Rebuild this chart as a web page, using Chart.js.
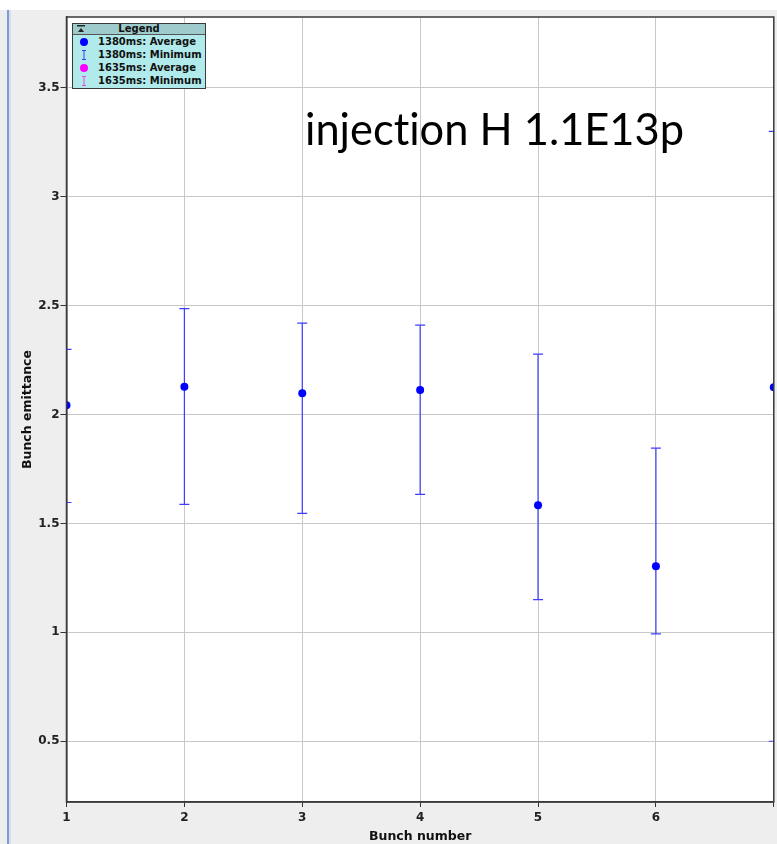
<!DOCTYPE html>
<html><head><meta charset="utf-8">
<script src="https://cdn.jsdelivr.net/npm/chart.js@4.4.1/dist/chart.umd.min.js"></script>
<style>
html,body{margin:0;padding:0;background:#fff;width:777px;height:844px;overflow:hidden;}
#bg{position:absolute;left:0;top:10px;width:777px;height:834px;background:#eeeeee;}
#bar1{position:absolute;left:7px;top:10px;width:2px;height:834px;background:#7f9bd0;}
#bar2{position:absolute;left:9px;top:10px;width:2px;height:834px;background:#d3def0;}
#wrap{position:absolute;left:0;top:0;width:777px;height:844px;}
#title{position:absolute;left:305px;top:106px;font:44px Lato,"Open Sans",sans-serif;line-height:44px;white-space:nowrap;transform-origin:0 0;color:#000;font-variant-ligatures:none;font-feature-settings:"liga" 0,"clig" 0;}
#legend{position:absolute;left:72px;top:23px;width:132px;height:64px;border:1px solid #3a3a3a;background:#b0eaea;font:bold 10px "DejaVu Sans",sans-serif;color:#111;}
#legend .hd{position:relative;height:10px;background:#9ecccc;border-bottom:1px solid #555;text-align:center;line-height:10px;font-size:10px;}
#legend .hd .ic{position:absolute;left:4px;top:1px;width:8px;height:7px;}
#legend .row{position:relative;height:13px;line-height:13px;padding-left:25px;white-space:nowrap;}
#legend .dot{position:absolute;left:7px;top:2.5px;width:8px;height:8px;border-radius:50%;}
#legend .ib{position:absolute;left:9px;top:1.5px;width:4px;height:10px;}
</style></head>
<body>
<div id="bg"></div><div id="bar1"></div><div id="bar2"></div>
<div id="wrap"><canvas id="c" width="777" height="844"></canvas></div>
<div id="legend">
  <div class="hd"><svg class="ic" viewBox="0 0 8 7"><rect x="0" y="0" width="8" height="1.5" fill="#222"/><path d="M1 7 L4 3 L7 7 Z" fill="#222"/></svg>Legend</div>
  <div class="row"><span class="dot" style="background:#0000ff"></span>1380ms: Average</div>
  <div class="row"><svg class="ib" viewBox="0 0 4 10"><path d="M0 0.5H4M2 0.5V9.5M0 9.5H4" stroke="#3c3cff" stroke-width="1" fill="none"/></svg>1380ms: Minimum</div>
  <div class="row"><span class="dot" style="background:#ff00ff"></span>1635ms: Average</div>
  <div class="row"><svg class="ib" viewBox="0 0 4 10"><path d="M0 0.5H4M2 0.5V9.5M0 9.5H4" stroke="#e050e0" stroke-width="1" fill="none"/></svg>1635ms: Minimum</div>
</div>
<div id="title">injection H 1.1E13p</div>
<script>
// ---- data ----
const bunches = [1, 2, 3, 4, 5, 6, 7];
const avg1380 = [2.043, 2.128, 2.098, 2.112, 1.583, 1.303, 2.125];
const low1380 = [1.596, 1.587, 1.546, 1.633, 1.150, 0.993, 0.500];
const high1380 = [2.299, 2.486, 2.420, 2.410, 2.277, 1.846, 3.300];
const xTicks = [1, 2, 3, 4, 5, 6, 7];
const yTicks = [0.5, 1, 1.5, 2, 2.5, 3, 3.5];
const xLabelsShown = ['1', '2', '3', '4', '5', '6', ''];

// ---- derived tables ----
const avgPts = bunches.map((b, i) => ({x: b, y: avg1380[i]}));
const whiskerPts = bunches.flatMap((b, i) => [{x: b, y: low1380[i]}, {x: b, y: high1380[i]}, {x: b, y: null}]);
const capPts = bunches.flatMap((b, i) => [{x: b, y: low1380[i]}, {x: b, y: high1380[i]}]);

const tickFont = {family: '"DejaVu Sans", sans-serif', size: 12, weight: 'bold'};
const titleFont = {family: '"DejaVu Sans", sans-serif', size: 12.5, weight: 'bold'};

const plotBg = {
  id: 'plotBg',
  beforeDraw(chart) {
    const {ctx, chartArea: a} = chart;
    ctx.save(); ctx.fillStyle = '#ffffff';
    ctx.fillRect(a.left, a.top, a.right - a.left, a.bottom - a.top);
    ctx.restore();
  },
  afterDraw(chart) {
    const {ctx, chartArea: a} = chart;
    ctx.save(); ctx.strokeStyle = '#3a3a3a'; ctx.lineWidth = 1.5;
    ctx.strokeRect(a.left, a.top, a.right - a.left, a.bottom - a.top);
    ctx.restore();
  }
};

new Chart(document.getElementById('c'), {
  type: 'scatter',
  data: {
    datasets: [
      {label: '1380ms: Average', data: avgPts, pointRadius: 4, pointHoverRadius: 4,
       backgroundColor: '#0000ff', borderWidth: 0, clip: 0},
      {label: '1380ms: Minimum', data: capPts, pointStyle: 'line', pointRadius: 5,
       borderColor: '#3c3cff', borderWidth: 1.2, clip: 0},
      {label: 'whisker', data: whiskerPts, showLine: true, spanGaps: false, pointRadius: 0,
       borderColor: '#3c3cff', borderWidth: 1.2, clip: 0}
    ]
  },
  options: {
    responsive: false, animation: false, devicePixelRatio: 1,
    layout: {autoPadding: false, padding: {left: 0, top: 17, right: 3.2, bottom: 0}},
    plugins: {legend: {display: false}, tooltip: {enabled: false}},
    scales: {
      x: {
        type: 'linear', min: 1, max: 7, offset: false,
        afterBuildTicks: s => { s.ticks = xTicks.map(v => ({value: v})); },
        afterFit: s => { s.height = 42; s.paddingRight = 0; },
        ticks: {font: tickFont, color: '#222', padding: 4, maxRotation: 0,
                callback: (v) => xLabelsShown[xTicks.indexOf(v)] ?? ''},
        grid: {color: '#c8c8c8', tickColor: '#333', tickLength: 5, lineWidth: 1},
        border: {display: true, color: '#3a3a3a', width: 1.5},
        title: {display: true, text: 'Bunch number', font: titleFont, color: '#111', padding: {top: 0, bottom: 0}}
      },
      y: {
        type: 'linear', min: 0.221, max: 3.825,
        afterBuildTicks: s => { s.ticks = yTicks.map(v => ({value: v})); },
        afterFit: s => { s.width = 66.5; },
        ticks: {font: tickFont, color: '#222', padding: 1, callback: v => String(v)},
        grid: {color: '#c8c8c8', tickColor: '#333', tickLength: 6, lineWidth: 1},
        border: {display: true, color: '#3a3a3a', width: 1.5},
        title: {display: true, text: 'Bunch emittance', font: titleFont, color: '#111', padding: {top: 20, bottom: 0}}
      }
    }
  },
  plugins: [plotBg]
});

// fit title text to the reference width
const t = document.getElementById('title');
const w = t.getBoundingClientRect().width;
t.style.transform = 'scaleX(' + (379 / w) + ')';
</script>
</body></html>
